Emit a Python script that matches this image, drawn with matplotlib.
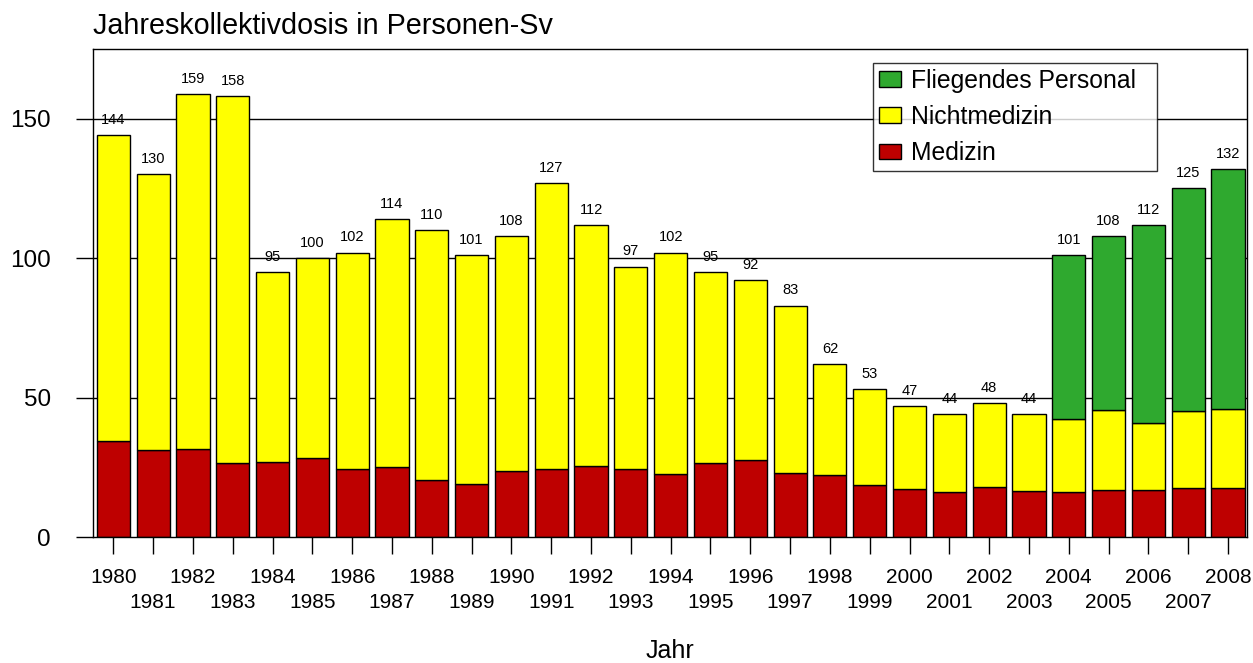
import matplotlib
matplotlib.use("Agg")
import matplotlib.pyplot as plt
from matplotlib.patches import Patch
import numpy as np

plt.rcParams['font.family'] = ['Liberation Sans', 'DejaVu Sans']

# data
years = list(range(1980, 2009))
medizin = [34.5, 31.1, 31.5, 26.6, 26.9, 28.4, 24.3, 25.0, 20.3, 19.0,
           23.7, 24.4, 25.5, 24.3, 22.5, 26.5, 27.7, 22.9, 22.4, 18.8,
           17.2, 16.2, 18.0, 16.4, 16.0, 16.9, 16.8, 17.4, 17.5]
nichtmedizin = [109.5, 98.9, 127.5, 131.4, 68.1, 71.6, 77.7, 89.0, 89.7, 82.0,
                84.3, 102.6, 86.5, 72.7, 79.5, 68.5, 64.3, 60.1, 39.6, 34.2,
                29.8, 27.8, 30.0, 27.6, 26.2, 28.6, 24.1, 27.9, 28.5]
fliegend = [0] * 24 + [58.8, 62.5, 71.1, 79.7, 86.0]
yticks = [0, 50, 100, 150]

col_med = '#BE0000'
col_nicht = '#FFFF00'
col_flieg = '#2FA92F'

W, H = 1253, 663
fig = plt.figure(figsize=(W / 100, H / 100), dpi=100)
# axes box in pixels: left 93, right 1247, top 49, bottom 537
ax = fig.add_axes([93 / W, 1 - 537 / H, (1247 - 93) / W, (537 - 49) / H])

x = np.arange(len(years))
med = np.array(medizin)
nicht = np.array(nichtmedizin)
flieg = np.array(fliegend, dtype=float)
bw = 0.833

for yv in yticks[1:]:
    ax.axhline(yv, color='black', lw=1.0, zorder=1)

ax.bar(x, med, bw, color=col_med, edgecolor='black', lw=1.0, zorder=2)
ax.bar(x, nicht, bw, bottom=med, color=col_nicht, edgecolor='black', lw=1.0, zorder=2)
mask = flieg > 0
ax.bar(x[mask], flieg[mask], bw, bottom=(med + nicht)[mask], color=col_flieg,
       edgecolor='black', lw=1.0, zorder=2)

total = med + nicht + flieg
for xi, t in zip(x, total):
    ax.annotate(f"{t:.0f}", (xi, t), xytext=(0, 8), textcoords='offset points',
                ha='center', va='baseline', fontsize=10.5, zorder=4)

ax.set_xlim(-0.51, 28.477)
ax.set_ylim(0, 175)

ax.set_yticks(yticks)
ax.set_yticklabels([str(v) for v in yticks])
ax.tick_params(axis='y', length=12.2, width=1.0, pad=18, labelsize=17.5)

# year labels on two alternating rows
ax.set_xticks(x)
ax.set_xticklabels([])
ax.tick_params(axis='x', length=12.2, width=1.0)
for i, yr in enumerate(years):
    off = -22.5 if i % 2 == 0 else -40.5
    ax.annotate(str(yr), (x[i], 0), xycoords=('data', 'axes fraction'),
                xytext=(0, off), textcoords='offset points',
                ha='center', va='top', fontsize=15, annotation_clip=False)

for sp in ax.spines.values():
    sp.set_color('black')
    sp.set_linewidth(1.0)
    sp.set_zorder(3)

handles = [Patch(facecolor=col_flieg, edgecolor='black', lw=1.0),
           Patch(facecolor=col_nicht, edgecolor='black', lw=1.0),
           Patch(facecolor=col_med, edgecolor='black', lw=1.0)]
leg = ax.legend(handles, ['Fliegendes Personal', 'Nichtmedizin', 'Medizin'],
                loc='upper left', bbox_to_anchor=(0.6757, 0.972, 0.2461, 0.0),
                mode='expand', borderaxespad=0,
                fontsize=17.8, frameon=True, fancybox=False, shadow=False,
                handlelength=0.89, handleheight=0.6, handletextpad=0.42,
                labelspacing=0.49, borderpad=0.25)
leg.get_frame().set_edgecolor('black')
leg.get_frame().set_linewidth(1.0)
leg.set_zorder(5)

fig.text(93 / W, 1 - 33.5 / H, 'Jahreskollektivdosis in Personen-Sv',
         ha='left', va='baseline', fontsize=20.7)
fig.text(670 / W, 1 - 657.5 / H, 'Jahr', ha='center', va='baseline', fontsize=18)

fig.savefig('out.png', dpi=100)
